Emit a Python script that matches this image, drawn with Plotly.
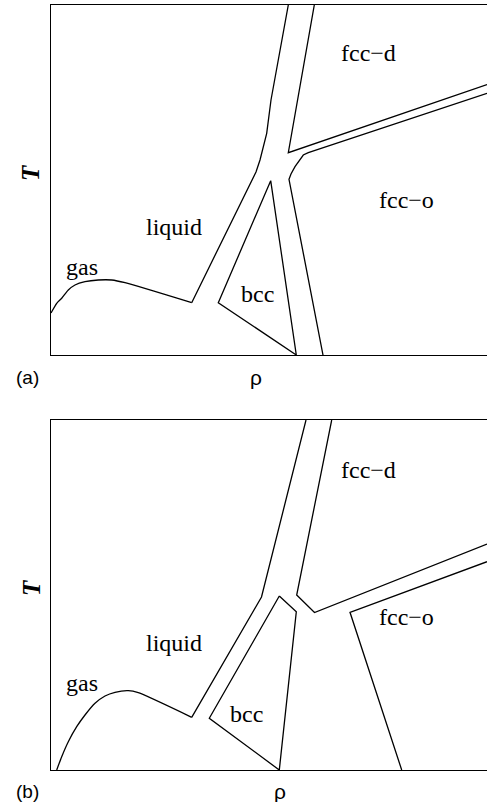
import plotly.graph_objects as go

# Schematic phase diagrams, density (rho) vs temperature (T), arbitrary units.
# Axis spans: rho 0..436, T 0..350 for both panels.
RHO_MAX = 436
T_MAX = 350

# ---------- panel (a) ----------
a_gas_rho = [0, 5.7, 10.7, 17.3, 24, 34, 47.3, 60.7, 74, 140.7]
a_gas_t = [42, 51.7, 56.7, 65, 70, 73.3, 75, 75, 72.3, 52.3]
a_liq_rho = [140.7, 201, 205, 209, 212, 215.7, 220, 237.3]
a_liq_t = [52.3, 174, 183, 195, 207, 221.7, 255, 350]
a_bcc_rho = [219.7, 167.3, 245.3, 219.7]
a_bcc_t = [174.3, 52.3, 0, 174.3]
a_fccd_rho = [263.3, 237.3, 436]
a_fccd_t = [350, 202.3, 270.5]
a_fcco_rho = [272, 238, 240, 244, 252.3, 257.3, 436]
a_fcco_t = [0, 175.7, 181, 188.3, 200, 202.3, 261.7]

# ---------- panel (b) ----------
b_gas_rho = [5.7, 10.7, 17.3, 25.7, 34, 44, 54, 64, 77.3, 87.3, 140.7]
b_gas_t = [0, 13.3, 28.3, 43.3, 55, 66.7, 74, 77.7, 79.3, 77.3, 52.7]
b_liq_rho = [140.7, 210.5, 255]
b_liq_t = [52.7, 173, 350]
b_bcc_rho = [228.3, 245.3, 228.3, 158.3, 228.3]
b_bcc_t = [174, 158.3, 0, 51.7, 174]
b_fccd_rho = [280.7, 245.7, 263.5, 436]
b_fccd_t = [350, 175, 157.5, 226]
b_fcco_rho = [350.7, 299, 436]
b_fcco_t = [0, 157.7, 208.3]

# phase labels: text, rho, T
labels = ["fcc\u2212d", "fcc\u2212o", "liquid", "gas", "bcc"]
a_label_rho = [317.3, 355, 123, 31.3, 206.7]
a_label_t = [301.7, 155, 128.3, 88.3, 61]
b_label_rho = [317.3, 355, 123, 31.3, 195]
b_label_t = [300, 153.3, 127.3, 87.3, 56]

W, H = 487, 802
LEFT = 51
A_TOP, A_BOT = 5, 355
B_TOP, B_BOT = 420, 770

fig = go.Figure()

LINE = dict(color="black", width=1.3)


def add_curve(xs, ys, axis, spline=False):
    fig.add_trace(go.Scatter(
        x=xs, y=ys, mode="lines",
        line=dict(LINE, shape="spline" if spline else "linear", smoothing=0.6),
        xaxis="x" + axis, yaxis="y" + axis,
        hoverinfo="skip", showlegend=False,
    ))


add_curve(a_gas_rho, a_gas_t, "", spline=True)
add_curve(a_liq_rho, a_liq_t, "")
add_curve(a_bcc_rho, a_bcc_t, "")
add_curve(a_fccd_rho, a_fccd_t, "")
add_curve(a_fcco_rho, a_fcco_t, "")

add_curve(b_gas_rho, b_gas_t, "2", spline=True)
add_curve(b_liq_rho, b_liq_t, "2")
add_curve(b_bcc_rho, b_bcc_t, "2")
add_curve(b_fccd_rho, b_fccd_t, "2")
add_curve(b_fcco_rho, b_fcco_t, "2")

SERIF = "Liberation Serif, Times New Roman, serif"
SANS = "Liberation Sans, Arial, sans-serif"
CENTER = dict(xanchor="center", yanchor="middle", showarrow=False)

annotations = []
for txt, xr, yr in zip(labels, a_label_rho, a_label_t):
    annotations.append(dict(CENTER, text=txt, x=xr, y=yr, xref="x", yref="y",
                            font=dict(family=SERIF, size=24, color="black")))
for txt, xr, yr in zip(labels, b_label_rho, b_label_t):
    annotations.append(dict(CENTER, text=txt, x=xr, y=yr, xref="x2", yref="y2",
                            font=dict(family=SERIF, size=24, color="black")))


def paper(px, py):
    return px / W, 1 - py / H


for tpy, tagpy, tag in [(173, 377, "(a)"), (588, 791, "(b)")]:
    tx, ty = paper(31, tpy)
    annotations.append(dict(CENTER, text="<b><i>T</i></b>", x=tx, y=ty,
                            xref="paper", yref="paper", textangle=-90,
                            font=dict(family=SERIF, size=25, color="black")))
    tagx, tagy = paper(27, tagpy)
    annotations.append(dict(CENTER, text=tag, x=tagx, y=tagy, xref="paper", yref="paper",
                            font=dict(family=SANS, size=19, color="black")))

for rpx, rpy in [(256, 377), (280, 791)]:
    rx, ry = paper(rpx, rpy)
    annotations.append(dict(CENTER, text="\u03c1", x=rx, y=ry, xref="paper", yref="paper",
                            font=dict(family=SANS, size=21, color="black")))

xdom = [LEFT / W, 1.0]
XAX = dict(range=[0, RHO_MAX], domain=xdom, showgrid=False, zeroline=False,
           showticklabels=False, ticks="", showline=True, linecolor="black",
           linewidth=1.3, mirror=True, fixedrange=True)
YAX = dict(range=[0, T_MAX], showgrid=False, zeroline=False, showticklabels=False,
           ticks="", showline=True, linecolor="black", linewidth=1.3, mirror=False,
           fixedrange=True)

fig.update_layout(
    width=W, height=H,
    margin=dict(l=0, r=0, t=0, b=0),
    paper_bgcolor="white", plot_bgcolor="white",
    xaxis=dict(XAX, anchor="y"),
    yaxis=dict(YAX, anchor="x", domain=[1 - A_BOT / H, 1 - A_TOP / H]),
    xaxis2=dict(XAX, anchor="y2"),
    yaxis2=dict(YAX, anchor="x2", domain=[1 - B_BOT / H, 1 - B_TOP / H]),
    annotations=annotations,
    showlegend=False,
)

fig.write_html("out.html", config={"displayModeBar": False})
